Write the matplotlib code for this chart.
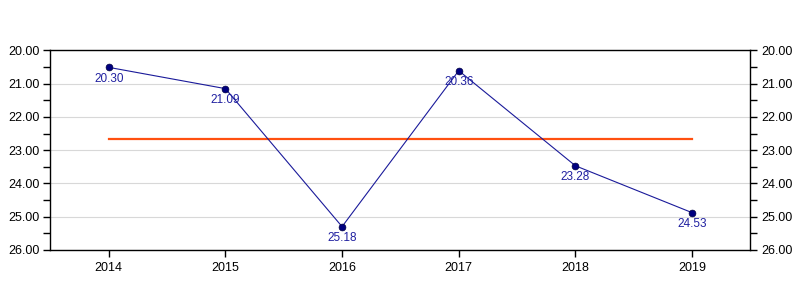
import matplotlib
matplotlib.use("Agg")
import matplotlib.pyplot as plt
import numpy as np
from matplotlib.ticker import MultipleLocator, FormatStrFormatter

plt.rcParams['font.family'] = ['Liberation Sans', 'DejaVu Sans']

years = [2014, 2015, 2016, 2017, 2018, 2019]
values = [20.51, 21.15, 25.30, 20.61, 23.47, 24.88]
labels = ["20.30", "21.09", "25.18", "20.36", "23.28", "24.53"]
avg = np.mean(values)

fig = plt.figure(figsize=(8, 3), dpi=100)
ax = fig.add_axes([0.063, 0.167, 0.875, 0.665])

ax.plot(years, values, color='#1a1a9a', lw=0.8, zorder=3)
ax.scatter(years, values, s=24, color='#000080', edgecolor='#000040', lw=0.5, zorder=4)
ax.plot([years[0], years[-1]], [avg, avg], color='#ff5010', lw=1.6, zorder=2)

for x, y, t in zip(years, values, labels):
    ax.annotate(t, (x, y), xytext=(0, -4), textcoords='offset points',
                ha='center', va='top', fontsize=8.5, color='#2020a0', zorder=5)

ax.set_xlim(2013.5, 2019.5)
ax.set_ylim(26, 20)
ax.set_xticks(years)
ax.yaxis.set_major_locator(MultipleLocator(1))
ax.yaxis.set_minor_locator(MultipleLocator(0.5))
ax.yaxis.set_major_formatter(FormatStrFormatter('%.2f'))
ax.tick_params(axis='both', which='both', direction='out', labelsize=9, length=5, width=1)
ax.tick_params(axis='y', which='both', right=True, labelright=True, pad=3)
ax.grid(axis='y', which='major', color='#d8d8d8', lw=0.8)
ax.set_axisbelow(True)
for s in ax.spines.values():
    s.set_linewidth(1)

fig.savefig('out.png', dpi=100)
